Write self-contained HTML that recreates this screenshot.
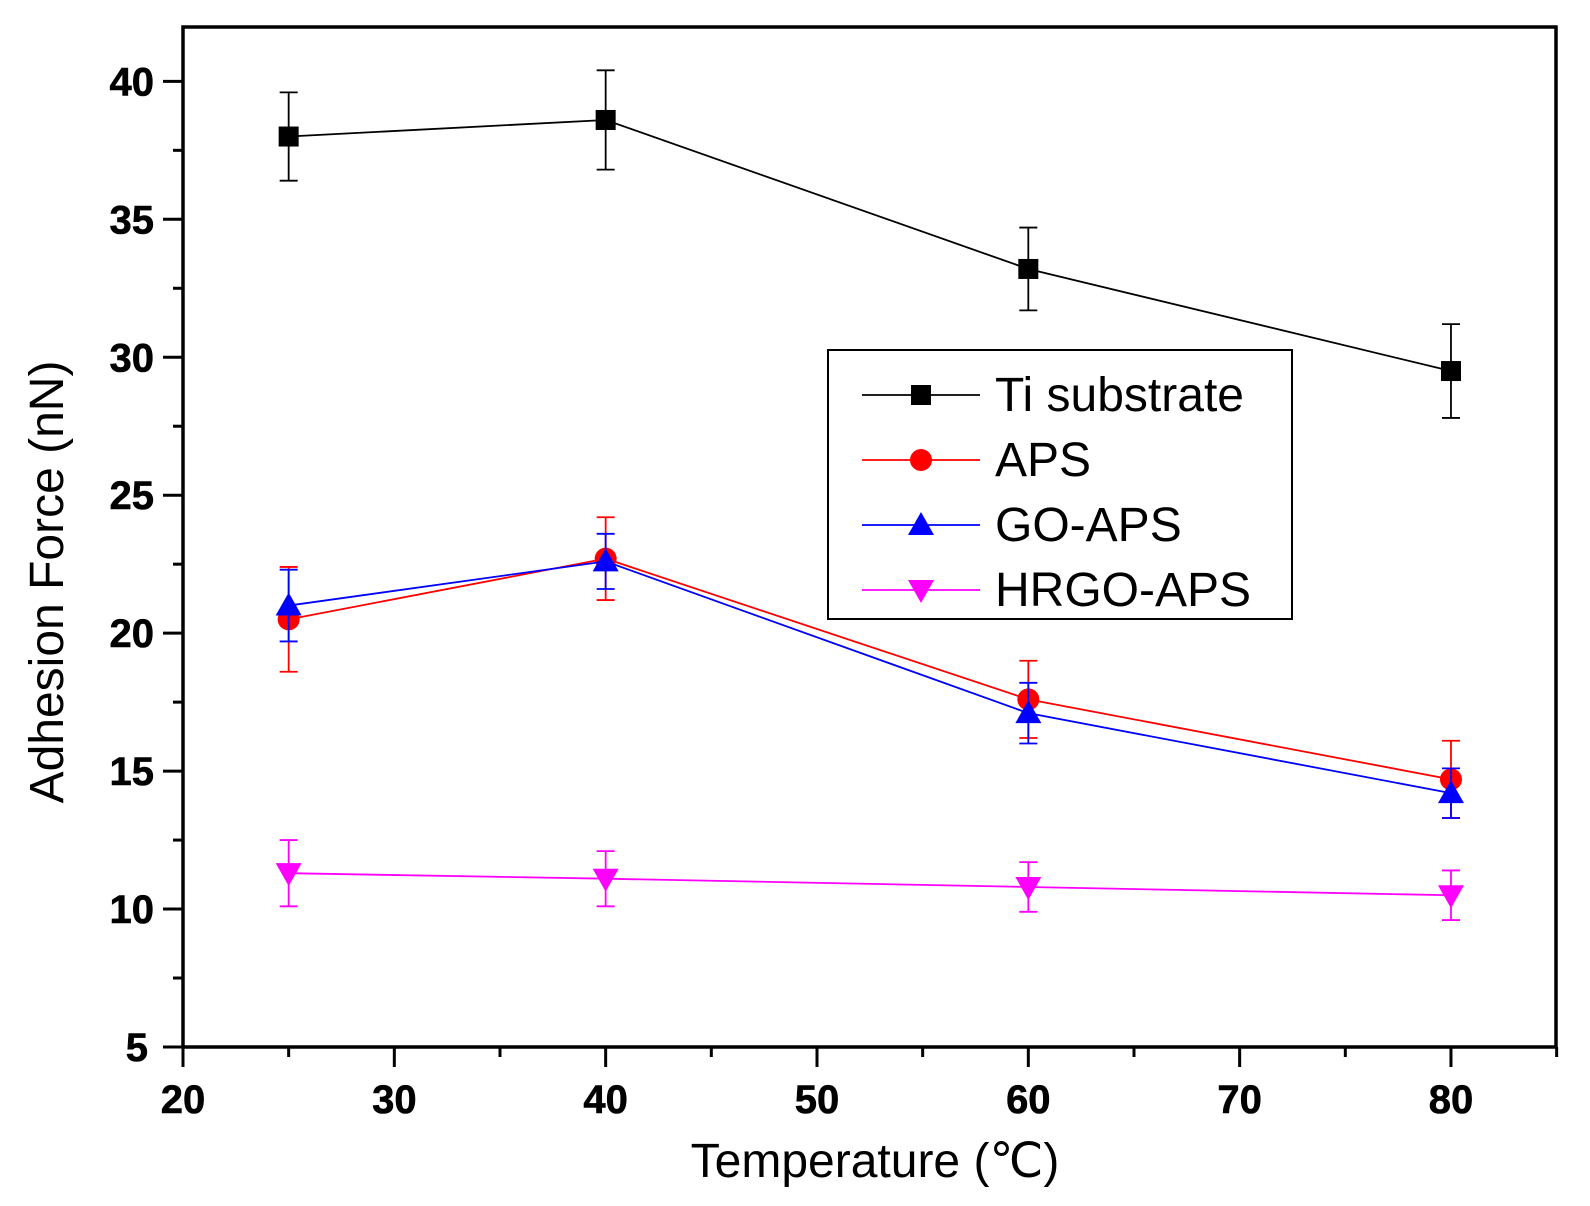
<!DOCTYPE html>
<html><head><meta charset="utf-8"><style>
html,body{margin:0;padding:0;background:#fff;}
svg{display:block;}
text{font-family:"Liberation Sans",Arial,sans-serif;}
</style></head><body>
<svg id="s" width="1590" height="1206" xmlns="http://www.w3.org/2000/svg"></svg>
<script>
const X=v=>183+(v-20)*21.133, Y=v=>1047-(v-5)*27.59;
let h='';
h+=`<rect x="183" y="27" width="1373" height="1020" fill="none" stroke="#000" stroke-width="3.5"/>`;
for(let v=20;v<=85;v+=5){const x=X(v),maj=v%10==0;h+=`<line x1="${x}" y1="1047" x2="${x}" y2="${1047+(maj?20:10)}" stroke="#000" stroke-width="3"/>`;
 if(maj&&v<=80)h+=`<text x="${x}" y="1113" font-size="40" font-weight="bold" text-anchor="middle" stroke="#000" stroke-width="0.6">${v}</text>`;}
for(let v=5;v<=42;v+=2.5){const y=Y(v),maj=v%5==0;h+=`<line x1="${183-(maj?20:10)}" y1="${y}" x2="183" y2="${y}" stroke="#000" stroke-width="3"/>`;
 if(maj)h+=`<text x="${v<10?148:154}" y="${y+14}" font-size="40" font-weight="bold" text-anchor="end" stroke="#000" stroke-width="0.6">${v}</text>`;}
h+=`<text x="875" y="1177" font-size="48" text-anchor="middle">Temperature (℃)</text>`;
h+=`<text transform="translate(63,582) rotate(-90)" font-size="48" text-anchor="middle">Adhesion Force (nN)</text>`;
const xs=[25,40,60,80];
const S=[
 {c:'#000',m:'sq',d:[[38,36.4,39.6],[38.6,36.8,40.4],[33.2,31.7,34.7],[29.5,27.8,31.2]]},
 {c:'#f00',m:'ci',d:[[20.5,18.6,22.4],[22.7,21.2,24.2],[17.6,16.2,19.0],[14.7,13.3,16.1]]},
 {c:'#00f',m:'up',d:[[21,19.7,22.3],[22.6,21.6,23.6],[17.1,16,18.2],[14.2,13.3,15.1]]},
 {c:'#f0f',m:'dn',d:[[11.3,10.1,12.5],[11.1,10.1,12.1],[10.8,9.9,11.7],[10.5,9.6,11.4]]}];
function mk(m,x,y,c){
 if(m=='sq')return `<rect x="${x-10}" y="${y-10}" width="20" height="20" fill="${c}"/>`;
 if(m=='ci')return `<circle cx="${x}" cy="${y}" r="11" fill="${c}"/>`;
 if(m=='up')return `<polygon points="${x},${y-13} ${x-13},${y+10} ${x+13},${y+10}" fill="${c}"/>`;
 return `<polygon points="${x},${y+13} ${x-13},${y-10} ${x+13},${y-10}" fill="${c}"/>`;}
S.forEach(s=>{
 let p=s.d.map((d,i)=>X(xs[i])+','+Y(d[0])).join(' ');
 h+=`<polyline points="${p}" fill="none" stroke="${s.c}" stroke-width="1.8"/>`;
 s.d.forEach((d,i)=>{const x=X(xs[i]);
  h+=`<line x1="${x}" y1="${Y(d[1])}" x2="${x}" y2="${Y(d[2])}" stroke="${s.c}" stroke-width="1.8"/>`;
  [d[1],d[2]].forEach(v=>h+=`<line x1="${x-9}" y1="${Y(v)}" x2="${x+9}" y2="${Y(v)}" stroke="${s.c}" stroke-width="1.8"/>`);
  h+=mk(s.m,x,Y(d[0]),s.c);});
});
h+=`<rect x="828" y="350" width="464" height="269" fill="#fff" stroke="#000" stroke-width="2"/>`;
const L=['Ti substrate','APS','GO-APS','HRGO-APS'];
L.forEach((t,i)=>{const y=395+i*65;
 h+=`<line x1="862" y1="${y}" x2="980" y2="${y}" stroke="${S[i].c}" stroke-width="1.8"/>`+mk(S[i].m,921,y,S[i].c);
 h+=`<text x="995" y="${y+16}" font-size="48">${t}</text>`;});
document.getElementById('s').innerHTML=h;
</script>
</body></html>
